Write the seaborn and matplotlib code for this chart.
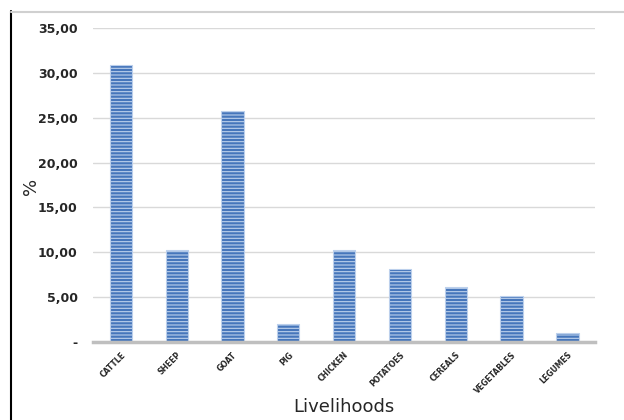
import matplotlib
matplotlib.use("Agg")
import matplotlib.pyplot as plt
import seaborn as sns
import pandas as pd
from matplotlib.lines import Line2D
from matplotlib.ticker import FuncFormatter

categories = ["CATTLE", "SHEEP", "GOAT", "PIG", "CHICKEN", "POTATOES", "CEREALS", "VEGETABLES", "LEGUMES"]
values = [30.9, 10.3, 25.75, 2.0, 10.3, 8.1, 6.1, 5.1, 1.0]
yticks = [0, 5, 10, 15, 20, 25, 30, 35]

sns.set_style("white")
plt.rcParams['font.family'] = ['DejaVu Sans']
plt.rcParams['hatch.linewidth'] = 0.8
plt.rcParams['hatch.color'] = '#a9c1e4'

df = pd.DataFrame({"cat": categories, "val": values})

fig = plt.figure(figsize=(6.24, 4.2), dpi=100)
ax = fig.add_axes([0.149, 0.186, 0.805, 0.747])

sns.barplot(data=df, x="cat", y="val", color="#4676bb", width=0.4, ax=ax,
            saturation=1, edgecolor="#bcd0ec", linewidth=0.8)
for p in ax.patches:
    p.set_hatch('-----')

ax.set_xlim(-0.5, len(categories) - 0.5)
ax.set_ylim(0, 35)
ax.set_yticks(yticks)
ax.yaxis.set_major_formatter(FuncFormatter(lambda v, pos: "-" if v == 0 else f"{v:.2f}".replace(".", ",")))
ax.yaxis.grid(True, color="#d9d9d9", linewidth=1)
ax.set_axisbelow(True)
for s in ["top", "right", "left"]:
    ax.spines[s].set_visible(False)
ax.spines["bottom"].set_color("#bfbfbf")
ax.spines["bottom"].set_linewidth(2.5)

ax.tick_params(axis="y", length=0, pad=11, labelsize=9, labelcolor="#262626")
for t in ax.get_yticklabels():
    t.set_fontweight("bold")
ax.set_xticks(range(len(categories)))
ax.set_xticklabels(categories, rotation=45, ha="right", rotation_mode="anchor",
                   fontsize=5.5, fontweight="bold", color="#262626")
ax.tick_params(axis="x", length=0, pad=6)
ax.set_xticks([i - 0.5 for i in range(len(categories) + 1)], minor=True)
ax.tick_params(axis="x", which="minor", length=3, color="#d9d9d9", width=1)

ax.set_xlabel("Livelihoods", fontsize=13)
ax.xaxis.set_label_coords(0.5, -0.207)
ax.xaxis.label.set_va("center")
ax.set_ylabel("")
fig.text(0.05, 0.555, "%", fontsize=13, rotation=90, ha="center", va="center")

fig.add_artist(Line2D([0.017, 0.017], [0.0, 0.975], color="black", linewidth=1.5, transform=fig.transFigure))
fig.add_artist(Line2D([0.017, 1.0], [0.972, 0.972], color="#d0d0d0", linewidth=1.5, transform=fig.transFigure))

fig.savefig("out.png", dpi=100)
